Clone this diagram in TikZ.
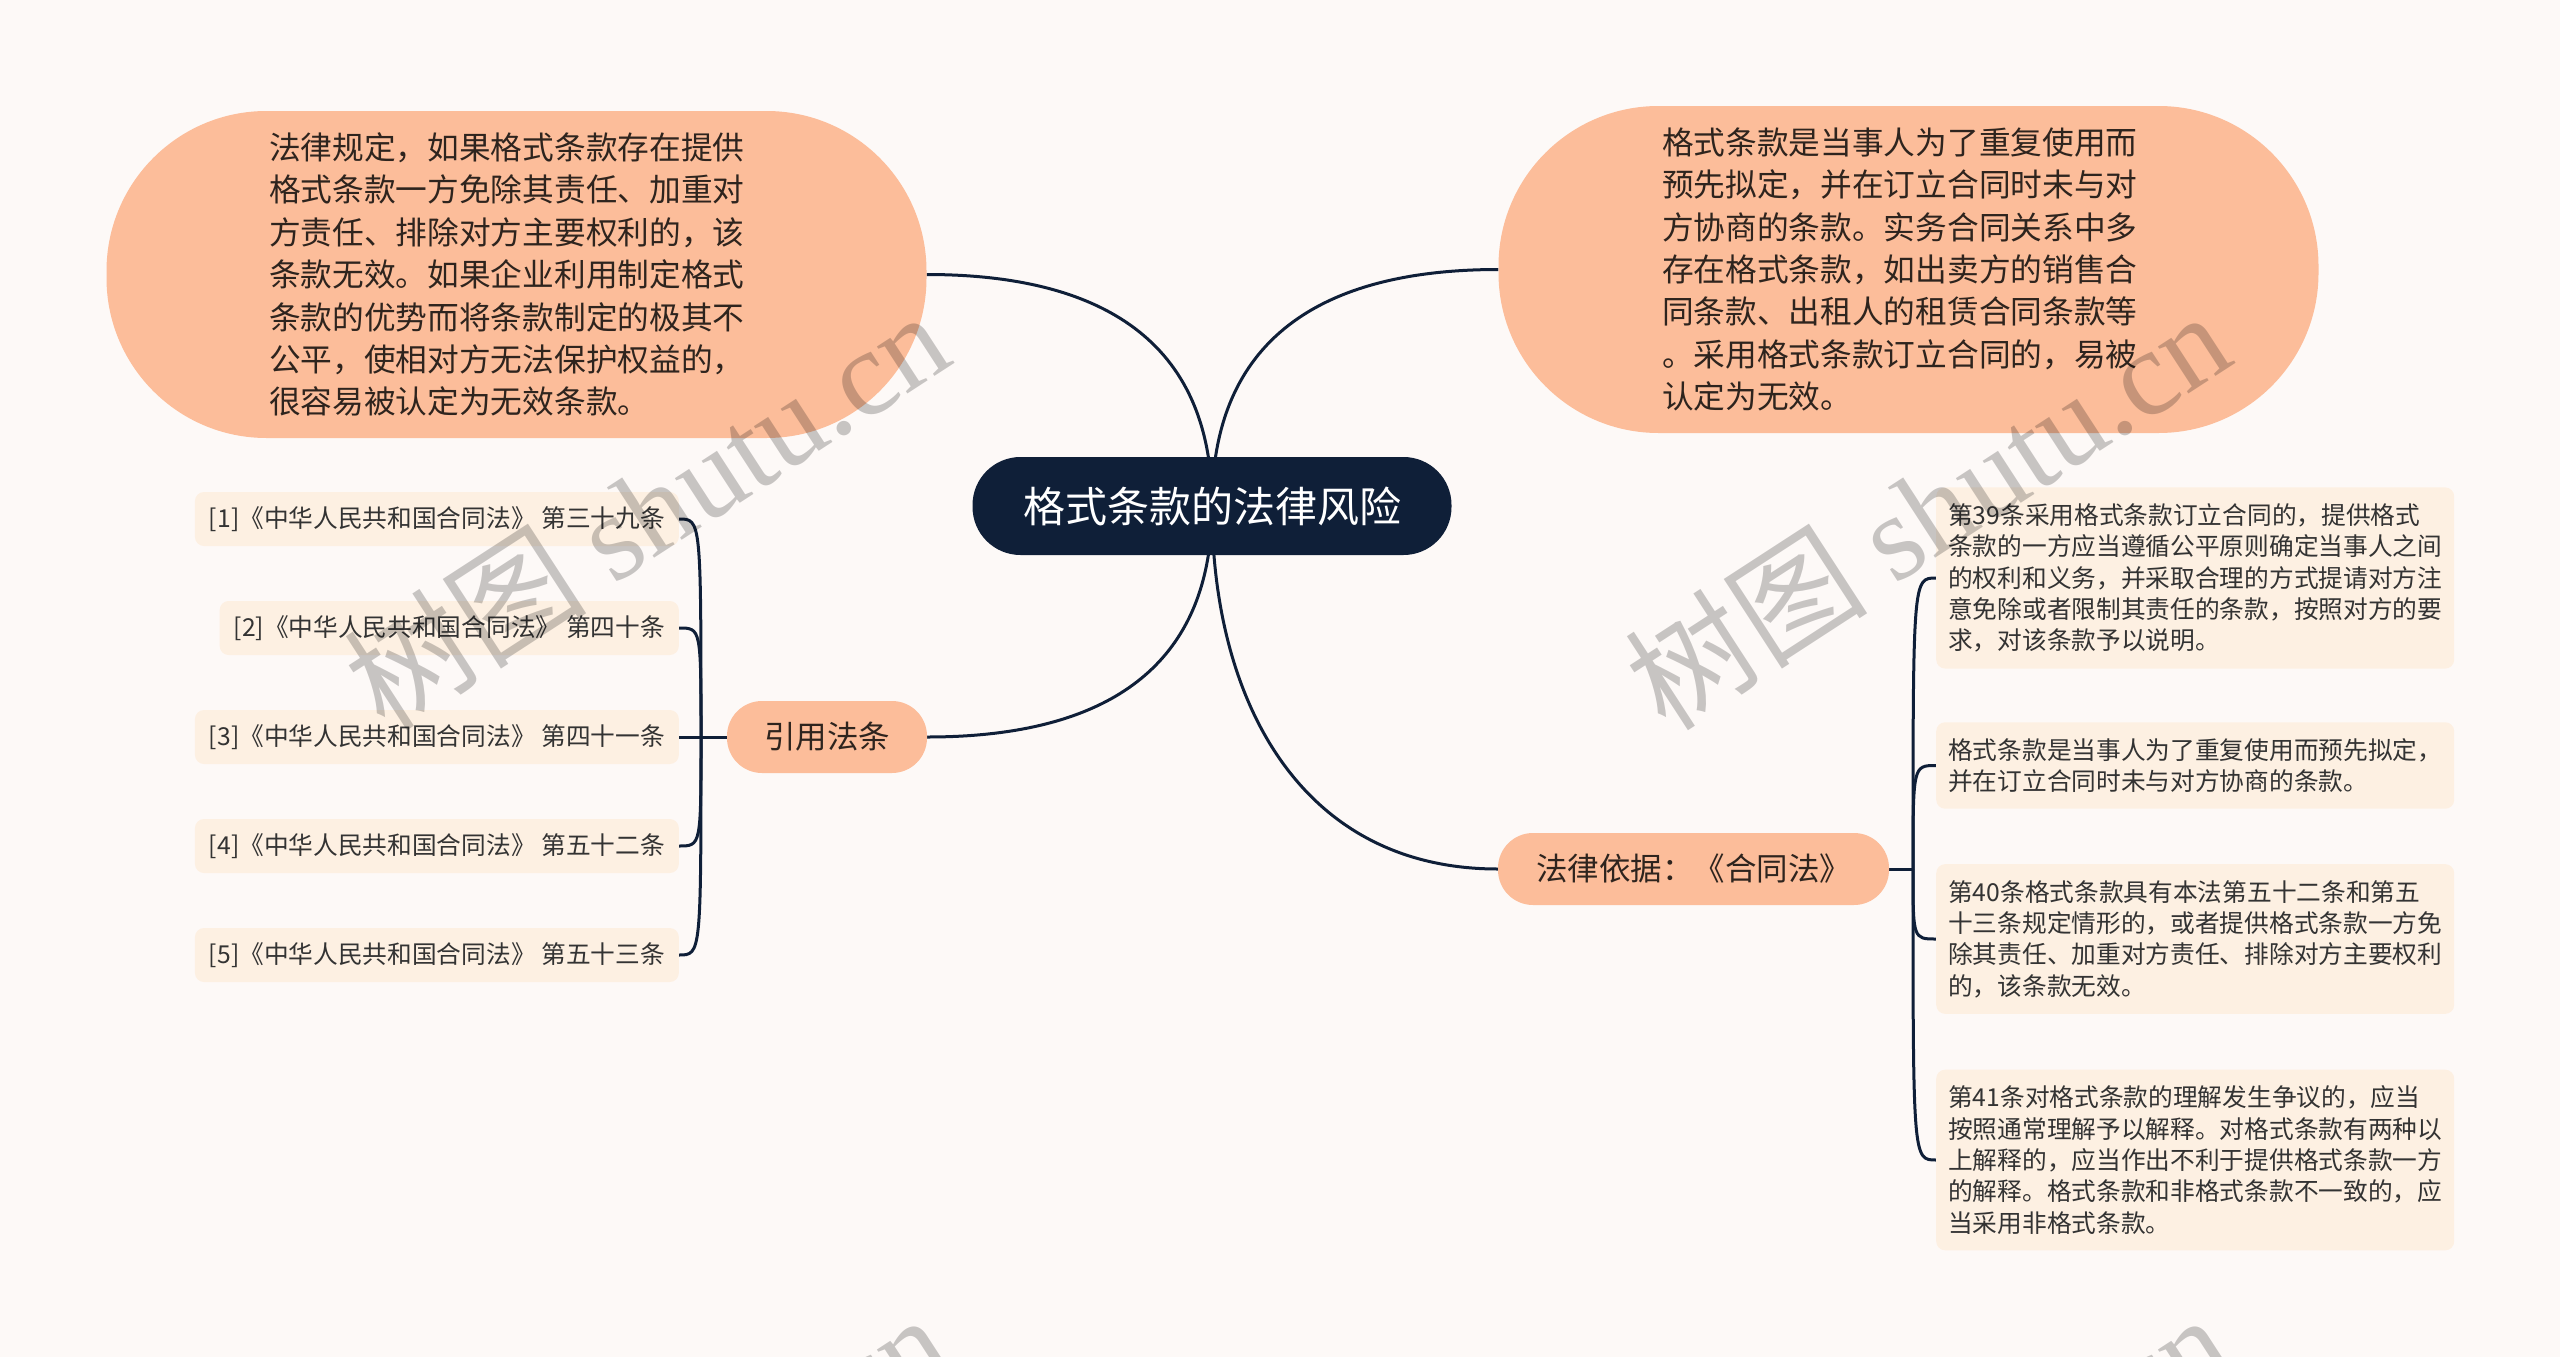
\documentclass[tikz,border=0pt]{standalone}
\usepackage{fontspec}
\setmainfont{Noto Sans CJK SC}
\newfontfamily\wmlatin{Liberation Serif}
\usetikzlibrary{backgrounds}
\definecolor{bgc}{HTML}{FDF9F7}
\definecolor{peach}{HTML}{FCBD9A}
\definecolor{cream}{HTML}{FDF0E2}
\definecolor{navy}{HTML}{0F1F38}
\definecolor{ink}{HTML}{2E241E}
\definecolor{txt}{HTML}{333333}
\begin{document}
\begin{tikzpicture}[x=1pt,y=-1pt,
  conn/.style={draw=navy, line width=3pt},
  rootnode/.style={fill=navy, text=white, rounded corners=48pt, minimum width=479pt, minimum height=98pt, inner sep=0pt, font=\fontsize{42}{50}\selectfont},
  bigbubble/.style={fill=peach, text=ink, rounded corners=160pt, minimum width=820pt, minimum height=327pt, inner sep=0pt, align=left, font=\fontsize{31.7}{42.45}\selectfont},
  midbubble/.style={fill=peach, text=ink, rounded corners=35pt, minimum height=72pt, inner sep=0pt, font=\fontsize{31.5}{38}\selectfont},
  refbox/.style={fill=cream, text=txt, rounded corners=9pt, minimum height=54pt, inner xsep=14pt, inner ysep=0pt, anchor=east, font=\fontsize{24.7}{30}\selectfont},
  lawbox/.style={fill=cream, text=txt, rounded corners=9pt, text width=494pt, inner xsep=12pt, inner ysep=16pt, anchor=west, align=left, font=\fontsize{24.7}{31.4}\selectfont},
  wm/.style={text=black, text opacity=0.21, font=\fontsize{122}{122}\selectfont, rotate=33}]
\useasboundingbox (0,0) rectangle (2560,1357);

% nodes
\node[rootnode] (root) at (1212,506) {格式条款的法律风险};

\node[bigbubble, text width=495pt] (tl) at (516.5,274.5) {法律规定，如果格式条款存在提供\\格式条款一方免除其责任、加重对\\方责任、排除对方主要权利的，该\\条款无效。如果企业利用制定格式\\条款的优势而将条款制定的极其不\\公平，使相对方无法保护权益的，\\很容易被认定为无效条款。};

\node[bigbubble, text width=493pt] (tr) at (1908.5,269.5) {格式条款是当事人为了重复使用而\\预先拟定，并在订立合同时未与对\\方协商的条款。实务合同关系中多\\存在格式条款，如出卖方的销售合\\同条款、出租人的租赁合同条款等\\。采用格式条款订立合同的，易被\\认定为无效。};

\node[midbubble, minimum width=200pt] (cite) at (827,737) {引用法条};
\node[midbubble, minimum width=391pt] (basis) at (1693.5,869) {法律依据：《合同法》};

\node[refbox] (r1) at (679,519) {[1]《中华人民共和国合同法》 第三十九条};
\node[refbox] (r2) at (679,628) {[2]《中华人民共和国合同法》 第四十条};
\node[refbox] (r3) at (679,737) {[3]《中华人民共和国合同法》 第四十一条};
\node[refbox] (r4) at (679,846) {[4]《中华人民共和国合同法》 第五十二条};
\node[refbox] (r5) at (679,955) {[5]《中华人民共和国合同法》 第五十三条};

\node[lawbox] (la) at (1936,578) {第39条采用格式条款订立合同的，提供格式\\条款的一方应当遵循公平原则确定当事人之间\\的权利和义务，并采取合理的方式提请对方注\\意免除或者限制其责任的条款，按照对方的要\\求，对该条款予以说明。};
\node[lawbox] (lb) at (1936,765.5) {格式条款是当事人为了重复使用而预先拟定，\\并在订立合同时未与对方协商的条款。};
\node[lawbox] (lc) at (1936,939) {第40条格式条款具有本法第五十二条和第五\\十三条规定情形的，或者提供格式条款一方免\\除其责任、加重对方责任、排除对方主要权利\\的，该条款无效。};
\node[lawbox] (ld) at (1936,1160) {第41条对格式条款的理解发生争议的，应当\\按照通常理解予以解释。对格式条款有两种以\\上解释的，应当作出不利于提供格式条款一方\\的解释。格式条款和非格式条款不一致的，应\\当采用非格式条款。};

\coordinate (lj) at (701,737);
\coordinate (rj) at (1913,869);

\begin{pgfonlayer}{background}
\fill[bgc] (0,0) rectangle (2560,1357);
\draw[conn] (root.center) .. controls (1212,340) and (1100,274.5) .. (tl.east);
\draw[conn] (root.center) .. controls (1212,340) and (1320,269.5) .. (tr.west);
\draw[conn] (root.center) .. controls (1212,672) and (1100,737) .. (cite.east);
\draw[conn] (root.center) .. controls (1212,700) and (1300,869) .. (basis.west);

\draw[conn] (cite.west) -- (lj);
\draw[conn] (lj) .. controls (701,519) and (701,519) .. (r1.east);
\draw[conn] (lj) .. controls (701,628) and (701,628) .. (r2.east);
\draw[conn] (lj) -- (r3.east);
\draw[conn] (lj) .. controls (701,846) and (701,846) .. (r4.east);
\draw[conn] (lj) .. controls (701,955) and (701,955) .. (r5.east);

\draw[conn] (basis.east) -- (rj);
\draw[conn] (rj) .. controls (1913,578) and (1913,578) .. (la.west);
\draw[conn] (rj) .. controls (1913,765.5) and (1913,765.5) .. (lb.west);
\draw[conn] (rj) .. controls (1913,939) and (1913,939) .. (lc.west);
\draw[conn] (rj) .. controls (1913,1160) and (1913,1160) .. (ld.west);
\end{pgfonlayer}

% watermarks
\begin{scope}
\clip (0,0) rectangle (2560,1357);
\node[wm] (wm1) at (646,509) {树图 {\wmlatin shutu.cn}};
\node[wm] (wm2) at (1927,509) {树图 {\wmlatin shutu.cn}};
\node[wm] (wm3) at (646,1512) {树图 {\wmlatin shutu.cn}};
\node[wm] (wm4) at (1927,1512) {树图 {\wmlatin shutu.cn}};
\end{scope}
\end{tikzpicture}
\end{document}
